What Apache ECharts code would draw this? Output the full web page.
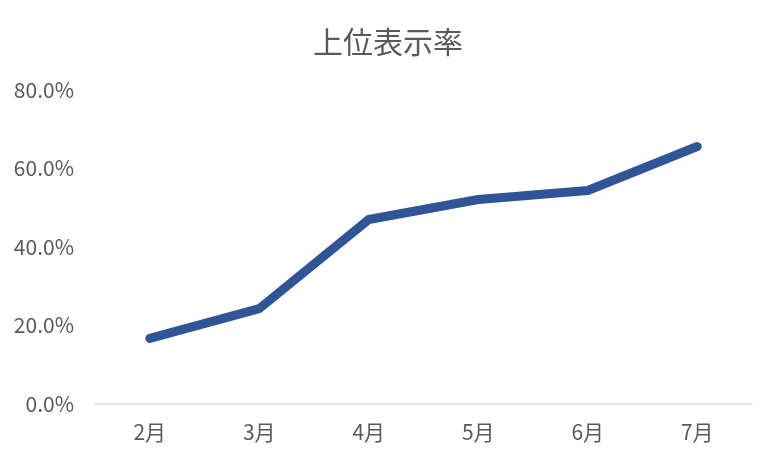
<!DOCTYPE html>
<html><head><meta charset="utf-8">
<script src="https://cdn.jsdelivr.net/npm/echarts@6/dist/echarts.min.js"></script>
<style>html,body{margin:0;padding:0;background:#fff}#c{width:776px;height:460px}</style>
</head><body><div id="c"></div>
<script>
const categories = ['2月','3月','4月','5月','6月','7月'];
const rateValues = [16.7, 24.3, 47.0, 52.1, 54.4, 65.6];
const yTicks = [0, 20, 40, 60, 80];
const titleText = '上位表示率';

const chart = echarts.init(document.getElementById('c'), null, {renderer:'canvas'});
chart.setOption({
  animation:false,
  backgroundColor:'#fff',
  title:{text:titleText,left:'center',top:22,textStyle:{fontFamily:'Noto Sans CJK JP',fontSize:30,fontWeight:'normal',color:'#595959'}},
  grid:{left:95,right:24,top:90,bottom:56,containLabel:false},
  xAxis:{type:'category',data:categories,boundaryGap:true,
    axisLine:{lineStyle:{color:'#d9d9d9',width:1.5}},axisTick:{show:false},
    axisLabel:{fontFamily:'Noto Sans CJK JP',fontSize:21,color:'#595959',margin:18}},
  yAxis:{type:'value',min:yTicks[0],max:yTicks[yTicks.length-1],interval:20,
    axisLine:{show:false},axisTick:{show:false},splitLine:{show:false},
    axisLabel:{fontFamily:'Noto Sans CJK JP',fontSize:21,color:'#595959',margin:21,formatter:v=>v.toFixed(1)+'%'}},
  series:[{type:'line',data:rateValues,showSymbol:false,symbol:'none',
    lineStyle:{color:'#2F5597',width:9,cap:'round',join:'round'}}]
});
</script></body></html>
